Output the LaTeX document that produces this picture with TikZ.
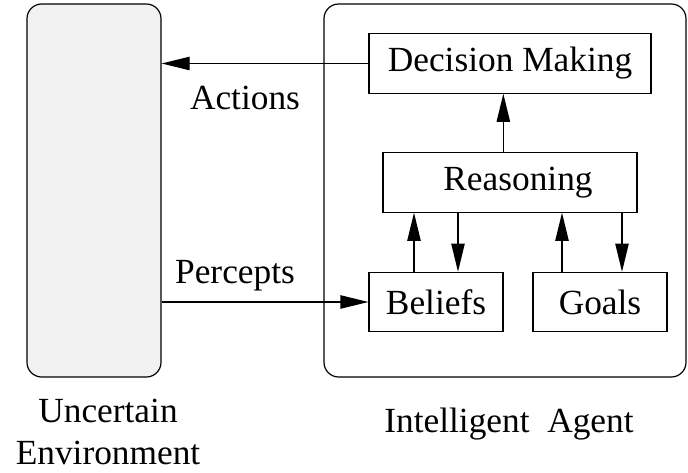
\documentclass[tikz,border=0pt]{standalone}
\usepackage{fontspec}
\setmainfont{Liberation Serif}
\usetikzlibrary{arrows.meta}
\definecolor{envgray}{RGB}{242,242,242}

\begin{document}
\begin{tikzpicture}
[
    x=0.75pt, y=-0.75pt,
    font=\fontsize{26.5}{31.5}\selectfont,
    line width=0.9pt,
    >={Triangle[length=21pt, width=10pt]},
    frame/.style={draw, rounded corners=11pt, inner sep=0pt},
    part/.style={draw, inner sep=0pt, minimum height=44.5pt},
]
\useasboundingbox (0,0) rectangle (688,473);
\node [frame, fill=envgray, minimum width=100.5pt, minimum height=279.75pt] (env) at (94,190.5) {};
\node [frame, minimum width=271.5pt, minimum height=279.75pt] (agent) at (505,190.5) {};
\node [part, minimum width=211.5pt] (dm) at (510,63.5) {Decision Making};
\node [part, minimum width=190.5pt] (reas) at (510,182.5) {\hspace{12pt}Reasoning};
\node [part, minimum width=100.5pt] (bel) at (436,302) {Beliefs};
\node [part, minimum width=100.5pt] (goal) at (600,302) {Goals\hspace{16pt}};

\node (act) at (245,98) {Actions};
\node (perc) at (235,276) {Percepts};
\node [align=center] (envlabel) at (108,432) {Uncertain\\Environment};
\node (agentlabel) at (509,424) {Intelligent\ \ Agent};

\draw [->] (dm.west) -- (dm.west -| env.east);
\draw [->] (env.east |- bel.west) -- (bel.west);
\draw [->] ([xshift=-5pt]reas.north) -- ([xshift=-5pt]reas.north |- dm.south);
\draw [->] ([xshift=-16.5pt]bel.north) -- ([xshift=-16.5pt]bel.north |- reas.south);
\draw [->] ([xshift=16.5pt]bel.north |- reas.south) -- ([xshift=16.5pt]bel.north);
\draw [->] ([xshift=-28.5pt]goal.north) -- ([xshift=-28.5pt]goal.north |- reas.south);
\draw [->] ([xshift=16.5pt]goal.north |- reas.south) -- ([xshift=16.5pt]goal.north);
\end{tikzpicture}
\end{document}
